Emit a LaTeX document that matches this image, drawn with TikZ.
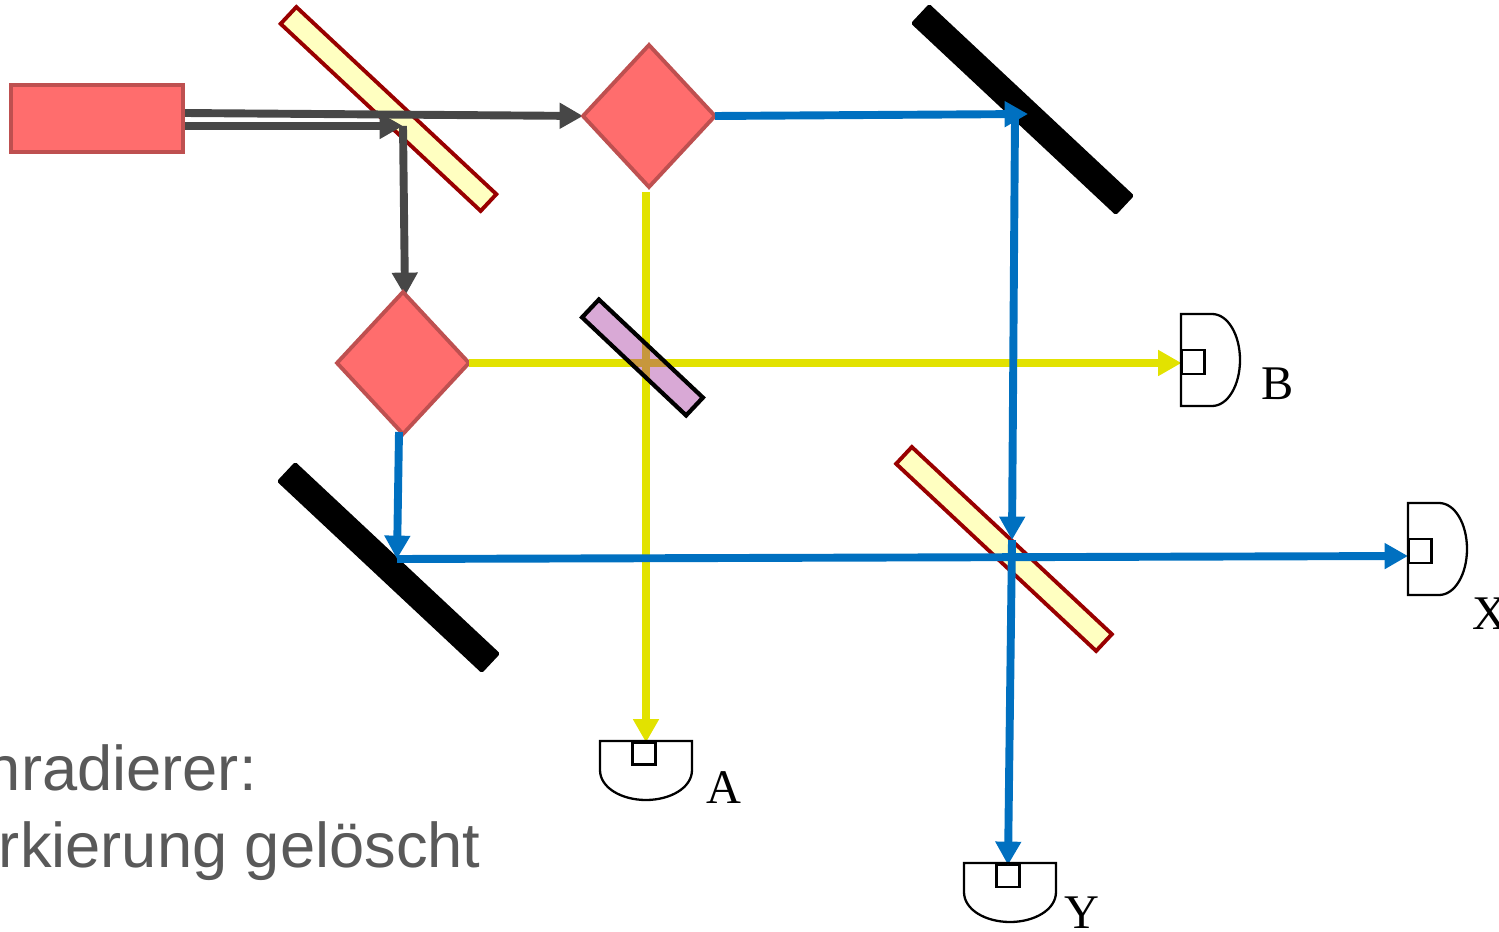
\documentclass[tikz,border=0pt]{standalone}
\usepackage{fontspec}
\setmainfont{Liberation Serif}
\newfontfamily\grotesk{Liberation Sans}
\usetikzlibrary{arrows.meta,shapes.geometric,backgrounds}
\definecolor{rotfuell}{HTML}{FF6D6D}
\definecolor{rotrand}{HTML}{BE5050}
\definecolor{gelbfuell}{HTML}{FFFFC1}
\definecolor{gelbrand}{HTML}{990000}
\definecolor{strahlgrau}{HTML}{474747}
\definecolor{strahlblau}{HTML}{0070C0}
\definecolor{strahlgelb}{HTML}{E2E200}
\definecolor{lila}{HTML}{A02898}
\definecolor{textgrau}{HTML}{595959}
\tikzset{
  quelle/.style={draw=rotrand,fill=rotfuell,line width=2.2pt,inner sep=0pt,outer sep=0pt},
  wuerfel/.style={diamond,aspect=1,quelle},
  teiler/.style={draw=gelbrand,fill=gelbfuell,line width=2.2pt,inner sep=0pt,outer sep=0pt,
    minimum width=5.48cm,minimum height=0.46cm,rotate=-43.1},
  spiegel/.style={draw=black,fill=black,line width=2.2pt,line join=round,inner sep=0pt,outer sep=0pt,
    minimum width=5.54cm,minimum height=0.46cm,rotate=-43.1},
  filter/.style={draw=black,line width=2.4pt,fill=lila,fill opacity=0.4,draw opacity=1,
    inner sep=0pt,outer sep=0pt,minimum width=2.86cm,minimum height=0.49cm,rotate=-43.3},
  strahl/.style={line width=4.5pt,-{Triangle[length=13.3pt,width=14pt]}},
  detektor/.style={draw=black,line width=1.3pt},
  fenster/.style={draw=black,line width=1.4pt,inner sep=0pt,outer sep=0pt,minimum width=0.46cm,minimum height=0.48cm},
  marke/.style={font=\fontsize{27.5}{27.5}\selectfont,inner sep=0pt,anchor=base west},
  schrift/.style={font=\grotesk\fontsize{36}{36}\selectfont,text=textgrau,inner sep=0pt,anchor=base east}
}
\begin{document}
\begin{tikzpicture}[x=0.02cm,y=-0.02cm]
\useasboundingbox (0,0) rectangle (1499,932);

\node[quelle,minimum width=3.44cm,minimum height=1.34cm] (laser) at (97,118.5) {};
\node[wuerfel,minimum width=2.64cm,minimum height=2.84cm] (wuerfelA) at (649,116) {};
\node[wuerfel,minimum width=2.64cm,minimum height=2.84cm] (wuerfelB) at (403,363) {};

\node[fenster] (fensterB) at (1193,362) {};
\node[fenster] (fensterX) at (1420,551) {};
\node[fenster,minimum height=0.44cm] (fensterA) at (644,753.5) {};
\node[fenster,minimum height=0.44cm] (fensterY) at (1008,876) {};

\coordinate (austrittA) at (184,113);
\coordinate (austrittB) at (184,126);
\coordinate (knick) at (403,126);
\coordinate (eintrittB) at (405,296);
\coordinate (gelbstart) at (646,192);
\coordinate (trefferA) at (1028,114);
\coordinate (ecke) at (1015,118);
\coordinate (treffer) at (1012,540);
\coordinate (blaustart) at (399,432);
\coordinate (eckeB) at (397,559);
\coordinate (trefferX) at (1408,556);

\begin{scope}[on background layer]
\node[teiler] (teilerA) at (388.5,109) {};
\node[teiler] (teilerB) at (1004,549) {};
\node[spiegel] (spiegelA) at (1022.5,109.5) {};
\node[spiegel] (spiegelB) at (388.5,567.5) {};
\draw[strahl,strahlgrau] (austrittA) -- (wuerfelA.west);
\draw[strahl,strahlgrau] (austrittB) -- (knick);
\draw[strahl,strahlgrau] (knick) -- (eintrittB);
\end{scope}

\draw[strahl,strahlgelb] (wuerfelB.east) -- (fensterB.west |- wuerfelB.east);
\draw[strahl,strahlgelb] (gelbstart) -- (gelbstart |- fensterA.north);
\node[filter] (filter) at (642.5,357.5) {};

\draw[strahl,strahlblau] (wuerfelA.east) -- (trefferA);
\draw[strahl,strahlblau] (ecke) -- (treffer);
\draw[strahl,strahlblau] (treffer) -- (fensterY.north);
\draw[strahl,strahlblau] (blaustart) -- (eckeB);
\draw[strahl,strahlblau] (eckeB) -- (trefferX);

\draw[detektor] (1181,314) -- (1212,314) .. controls (1228,314) and (1240,335) .. (1240,360) .. controls (1240,385) and (1228,406) .. (1212,406) -- (1181,406) -- cycle;
\draw[detektor] (1408,503) -- (1439,503) .. controls (1455,503) and (1467,524) .. (1467,549) .. controls (1467,574) and (1455,595) .. (1439,595) -- (1408,595) -- cycle;
\draw[detektor] (600,741) -- (692,741) -- (692,770) .. controls (692,788) and (670,800) .. (646,800) .. controls (622,800) and (600,788) .. (600,770) -- cycle;
\draw[detektor] (964,863) -- (1056,863) -- (1056,892) .. controls (1056,910) and (1034,922) .. (1010,922) .. controls (986,922) and (964,910) .. (964,892) -- cycle;

\node[marke] (markeB) at (1261,400) {B};
\node[marke] (markeX) at (1472,630) {X};
\node[marke] (markeA) at (706,803) {A};
\node[marke] (markeY) at (1064,928) {Y};

\node[schrift] (zeileA) at (257,790) {nradierer:};
\node[schrift] (zeileB) at (481,867) {rkierung gelöscht};
\end{tikzpicture}
\end{document}
